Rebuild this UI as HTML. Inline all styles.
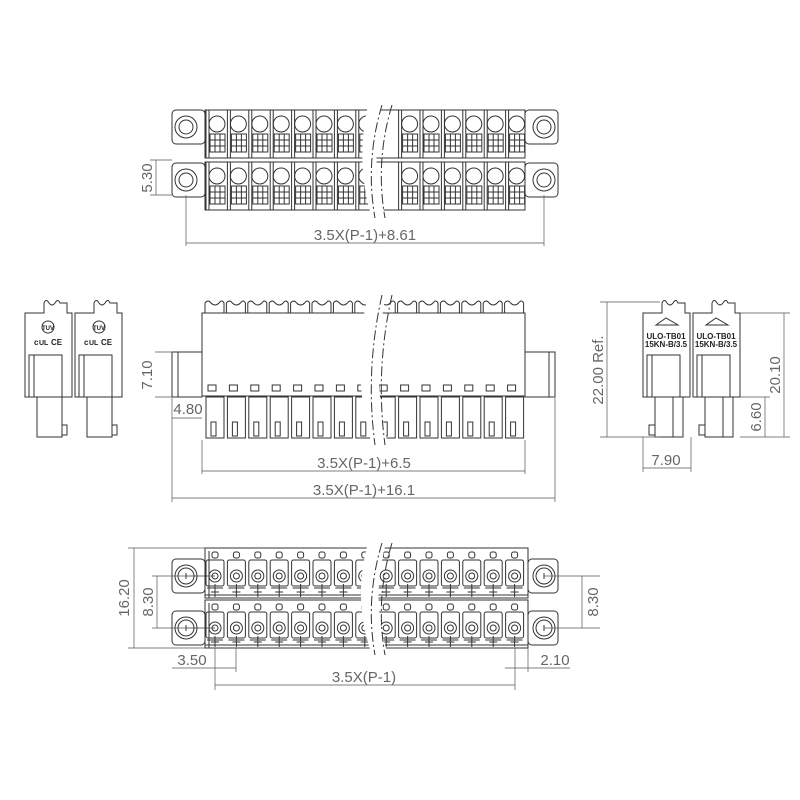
<!DOCTYPE html>
<html><head><meta charset="utf-8"><style>
html,body{margin:0;padding:0;background:#fff;width:800px;height:800px;overflow:hidden}
svg{display:block}
text{font-family:"Liberation Sans",sans-serif;fill:#666}
.d{font-size:15px;font-weight:normal;stroke:none}
</style></head><body>
<svg id="s" width="800" height="800" viewBox="0 0 800 800" xmlns="http://www.w3.org/2000/svg" stroke="#333" fill="none" stroke-width="1">
<g id="g"></g>
<g stroke-width="0.7" stroke="#555">
<line x1="186" y1="195" x2="186" y2="246"/>
<line x1="544" y1="195" x2="544" y2="246"/>
<line x1="186" y1="243" x2="544" y2="243"/>
<line x1="150" y1="160" x2="172" y2="160"/>
<line x1="150" y1="195" x2="172" y2="195"/>
<line x1="156" y1="160" x2="156" y2="195"/>
<line x1="172" y1="398" x2="172" y2="502"/>
<line x1="202" y1="440" x2="202" y2="474"/>
<line x1="525" y1="440" x2="525" y2="474"/>
<line x1="555" y1="398" x2="555" y2="502"/>
<line x1="202" y1="471" x2="525" y2="471"/>
<line x1="172" y1="498" x2="555" y2="498"/>
<line x1="155" y1="352" x2="172" y2="352"/>
<line x1="155" y1="397" x2="172" y2="397"/>
<line x1="172" y1="418" x2="202" y2="418"/>
<line x1="600" y1="302" x2="660" y2="302"/>
<line x1="600" y1="437" x2="660" y2="437"/>
<line x1="607" y1="302" x2="607" y2="437"/>
<line x1="740" y1="313" x2="790" y2="313"/>
<line x1="740" y1="437" x2="790" y2="437"/>
<line x1="784" y1="313" x2="784" y2="437"/>
<line x1="740" y1="397" x2="770" y2="397"/>
<line x1="765" y1="397" x2="765" y2="437"/>
<line x1="643" y1="437" x2="643" y2="472"/>
<line x1="691" y1="437" x2="691" y2="472"/>
<line x1="643" y1="468" x2="691" y2="468"/>
<line x1="128" y1="548" x2="205" y2="548"/>
<line x1="128" y1="648" x2="205" y2="648"/>
<line x1="134" y1="548" x2="134" y2="648"/>
<line x1="152" y1="576" x2="186" y2="576"/>
<line x1="152" y1="628" x2="186" y2="628"/>
<line x1="157" y1="576" x2="157" y2="628"/>
<line x1="544" y1="576" x2="600" y2="576"/>
<line x1="544" y1="628" x2="600" y2="628"/>
<line x1="582" y1="576" x2="582" y2="628"/>
<line x1="215" y1="648" x2="215" y2="690"/>
<line x1="236" y1="648" x2="236" y2="672"/>
<line x1="515" y1="648" x2="515" y2="690"/>
<line x1="528" y1="648" x2="528" y2="672"/>
<line x1="172" y1="668" x2="236" y2="668"/>
<line x1="505" y1="668" x2="570" y2="668"/>
<line x1="215" y1="685" x2="515" y2="685"/>
</g>
<text class="d" x="365" y="240" text-anchor="middle">3.5X(P-1)+8.61</text>
<text class="d" transform="translate(152,178) rotate(-90)" text-anchor="middle">5.30</text>
<text class="d" x="364" y="468" text-anchor="middle">3.5X(P-1)+6.5</text>
<text class="d" x="364" y="495" text-anchor="middle">3.5X(P-1)+16.1</text>
<text class="d" x="188" y="414" text-anchor="middle">4.80</text>
<text class="d" transform="translate(152,375) rotate(-90)" text-anchor="middle">7.10</text>
<text class="d" x="666" y="465" text-anchor="middle">7.90</text>
<text class="d" transform="translate(603,370) rotate(-90)" text-anchor="middle">22.00   Ref.</text>
<text class="d" transform="translate(780,375) rotate(-90)" text-anchor="middle">20.10</text>
<text class="d" transform="translate(761,417) rotate(-90)" text-anchor="middle">6.60</text>
<text class="d" transform="translate(129,598) rotate(-90)" text-anchor="middle">16.20</text>
<text class="d" transform="translate(153,602) rotate(-90)" text-anchor="middle">8.30</text>
<text class="d" transform="translate(598,602) rotate(-90)" text-anchor="middle">8.30</text>
<text class="d" x="192" y="665" text-anchor="middle">3.50</text>
<text class="d" x="555" y="665" text-anchor="middle">2.10</text>
<text class="d" x="364" y="682" text-anchor="middle">3.5X(P-1)</text>
<g stroke="none" font-family="Liberation Sans,sans-serif" font-weight="bold" font-size="8">
<text x="666" y="339" text-anchor="middle" style="fill:#222">ULO-TB01</text>
<text x="666" y="347" text-anchor="middle" style="fill:#222">15KN-B/3.5</text>
<text x="716" y="339" text-anchor="middle" style="fill:#222">ULO-TB01</text>
<text x="716" y="347" text-anchor="middle" style="fill:#222">15KN-B/3.5</text>
<text x="34" y="345" style="fill:#222;font-size:8px">c</text><text x="39" y="345" style="fill:#222;font-size:7px">UL</text><text x="51" y="345" style="fill:#222;font-size:8px">CE</text>
<text x="84" y="345" style="fill:#222;font-size:8px">c</text><text x="89" y="345" style="fill:#222;font-size:7px">UL</text><text x="101" y="345" style="fill:#222;font-size:8px">CE</text>
<text x="48" y="330" text-anchor="middle" style="fill:#222;font-size:6px">TUV</text>
<text x="99" y="330" text-anchor="middle" style="fill:#222;font-size:6px">TUV</text>
</g>
</svg>
<script>
var g=document.getElementById('g'),h='';
function R(x,y,w,hh,e){h+='<rect x="'+x+'" y="'+y+'" width="'+w+'" height="'+hh+'" '+(e||'')+'/>';}
function L(a,b,c,d,e){h+='<line x1="'+a+'" y1="'+b+'" x2="'+c+'" y2="'+d+'" '+(e||'')+'/>';}
function C(x,y,r,e){h+='<circle cx="'+x+'" cy="'+y+'" r="'+r+'" '+(e||'')+'/>';}
var P=21.4,N=15,X0=205;
[[110,158,127],[162,210,180]].forEach(function(r){
 R(172,r[2]-17,33,34,'rx="4"');R(525,r[2]-17,33,34,'rx="4"');
 C(186,r[2],11);C(186,r[2],7);C(544,r[2],11);C(544,r[2],7);
 R(X0,r[0],320,r[1]-r[0]);
 for(var i=0;i<N;i++){var x=X0+i*P;
  if(i==8)continue;
  L(x+1,r[0],x+1,r[1]);L(x+4,r[0],x+4,r[1]);
  C(x+12,r[0]+14,8);
  R(x+5,r[0]+24,15,18);L(x+5,r[0]+30,x+20,r[0]+30);L(x+5,r[0]+36,x+20,r[0]+36);
  L(x+10,r[0]+24,x+10,r[0]+42);L(x+15,r[0]+24,x+15,r[0]+42);
 }
});
function brk(y1,y2){h+='<path d="M382 '+y1+' Q365 '+((y1+y2)/2)+' 375 '+y2+'" stroke-dasharray="10,3,2,3"/>';
h+='<path d="M392 '+y1+' Q375 '+((y1+y2)/2)+' 385 '+y2+'" stroke-dasharray="10,3,2,3"/>';}
h+='<path d="M368 105 Q355 165 372 218 L386 218 Q369 165 382 105Z" fill="#fff" stroke="none"/>';
brk(105,218);
R(172,352,30,45);R(525,352,30,45);L(178,352,178,397);L(549,352,549,397);
R(202,313,323,83);
for(var i=0;i<N;i++){var x=X0+i*P;
 h+='<path d="M'+x+' 313 L'+x+' 303 Q'+(x+3)+' 299 '+(x+6)+' 303 Q'+(x+10)+' 307 '+(x+14)+' 303 Q'+(x+17)+' 299 '+(x+19)+' 303 L'+(x+19)+' 313"/>';
 R(x+3,385,8,6);
 R(x+1,397,18,41);R(x+6,422,5,14);
}
h+='<path d="M368 295 Q350 370 372 445 L388 445 Q370 370 386 295Z" fill="#fff" stroke="none"/>';
brk(295,445);
[[548,598,576],[600,648,628]].forEach(function(r){
 R(172,r[2]-17,33,34,'rx="4"');R(528,r[2]-17,30,34,'rx="4"');
 C(186,r[2],11);C(186,r[2],8);C(544,r[2],11);C(544,r[2],8);
 L(186,r[2]-3,186,r[2]+3);L(544,r[2]-3,544,r[2]+3);
 R(X0,r[0],323,r[1]-r[0]);L(X0+4,r[0]+3,X0+4,r[1]);L(X0,r[1]-3,528,r[1]-3);
 for(var i=0;i<N;i++){var x=X0+10+i*P;
  R(x-3,r[0]+4,6,6,'rx="2"');R(x-9,r[0]+12,18,26,'rx="2"');
  C(x,r[2],6);C(x,r[2],3);L(x-8,r[2]+12,x+8,r[2]+12);L(x,r[2]+8,x,r[1]-1);L(x-4,r[1]-6,x+4,r[1]-6);
 }
});
L(186,576,215,576,'stroke-width="0.7"');L(186,628,215,628,'stroke-width="0.7"');
h+='<path d="M368 543 Q352 600 372 655 L388 655 Q370 600 386 543Z" fill="#fff" stroke="none"/>';
brk(543,655);
function side(x0,lab){
 h+='<path d="M'+x0+' 313 L'+x0+' 397 L'+(x0+47)+' 397 L'+(x0+47)+' 313 L'+(x0+42)+' 313 L'+(x0+42)+' 303 L'+(x0+35)+' 303 Q'+(x0+33)+' 298 '+(x0+30)+' 303 Q'+(x0+27)+' 307 '+(x0+24)+' 303 Q'+(x0+21)+' 298 '+(x0+19)+' 303 L'+(x0+19)+' 313Z"/>';
 R(x0+4,355,33,42);L(x0+9,355,x0+9,397);
 if(lab){R(x0+12,397,25,40);R(x0+37,425,5,10);}
 else{R(x0+12,397,28,40);L(x0+30,397,x0+30,437);R(x0+6,425,6,10);}
}
side(25,1);side(75,1);side(643,0);side(693,0);
C(48,327,6);C(99,327,6);
h+='<path d="M656 325 L666 318 L678 325Z"/><path d="M706 325 L716 318 L728 325Z"/>';
g.innerHTML=h;
</script>
</body></html>
